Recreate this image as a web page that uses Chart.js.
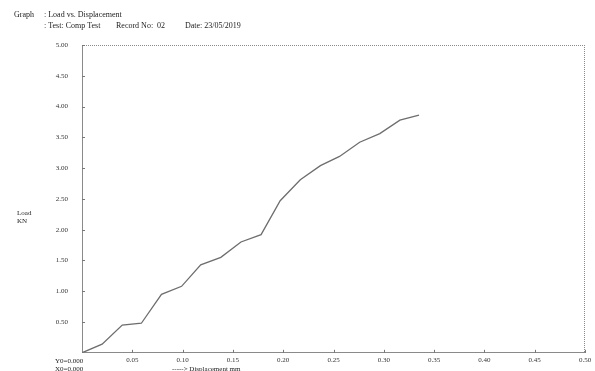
<!DOCTYPE html>
<html>
<head>
<meta charset="utf-8">
<script src="https://cdn.jsdelivr.net/npm/chart.js@4.4.1/dist/chart.umd.min.js"></script>
<style>
  html, body { margin: 0; padding: 0; background: #fff; }
  #wrap { width: 595px; height: 371px; position: relative; }
</style>
</head>
<body>
<div id="wrap"><canvas id="c" width="595" height="371"></canvas></div>
<script>
// Compression test record: displacement (mm) against load (KN)
const displacement = [0, 0.020, 0.040, 0.059, 0.079, 0.099, 0.118, 0.138, 0.158, 0.178,
                      0.197, 0.217, 0.237, 0.256, 0.276, 0.296, 0.316, 0.335];
const load = [0, 0.14, 0.45, 0.48, 0.95, 1.08, 1.43, 1.55, 1.80, 1.92,
              2.47, 2.81, 3.04, 3.19, 3.42, 3.56, 3.78, 3.86];

const xTicks = [0.05, 0.10, 0.15, 0.20, 0.25, 0.30, 0.35, 0.40, 0.45, 0.50];
const yTicks = [0.50, 1.00, 1.50, 2.00, 2.50, 3.00, 3.50, 4.00, 4.50, 5.00];

const headerLines = [
  { x: 14, y: 15, text: 'Graph' },
  { x: 44, y: 15, text: ': Load vs. Displacement' },
  { x: 44, y: 26, text: ': Test: Comp Test' },
  { x: 116, y: 26, text: 'Record No:  02' },
  { x: 185, y: 26, text: 'Date: 23/05/2019' }
];

const SERIF = '"Liberation Serif", "Times New Roman", serif';
const AXIS_GREY = '#8a8a8a';

// Header text, side labels, inward tick marks and dotted top/right frame
const decorations = {
  id: 'decorations',
  afterDraw(chart) {
    const ctx = chart.ctx;
    const area = chart.chartArea;
    const xs = chart.scales.x, ys = chart.scales.y;
    ctx.save();

    ctx.fillStyle = '#222';
    ctx.textBaseline = 'middle';
    ctx.textAlign = 'left';
    ctx.font = '8px ' + SERIF;
    headerLines.forEach(h => ctx.fillText(h.text, h.x, h.y));

    ctx.font = '7px ' + SERIF;
    ctx.fillText('Load', 17, 213);
    ctx.fillText('KN', 17, 221);
    ctx.fillText('Y0=0.000', 55, 361);
    ctx.fillText('X0=0.000', 55, 369);
    ctx.fillText('-----> Displacement mm', 172, 369);

    // dotted frame on top and right
    ctx.strokeStyle = AXIS_GREY;
    ctx.lineWidth = 1;
    ctx.setLineDash([1, 1]);
    ctx.beginPath();
    ctx.moveTo(area.left, area.top + 0.5);
    ctx.lineTo(area.right, area.top + 0.5);
    ctx.moveTo(area.right - 0.5, area.top);
    ctx.lineTo(area.right - 0.5, area.bottom);
    ctx.stroke();
    ctx.setLineDash([]);

    // short tick marks pointing into the plot
    ctx.strokeStyle = '#777';
    ctx.beginPath();
    yTicks.forEach(v => {
      const py = Math.round(ys.getPixelForValue(v)) + 0.5;
      ctx.moveTo(area.left, py);
      ctx.lineTo(area.left + 3, py);
    });
    xTicks.forEach(v => {
      const px = Math.round(xs.getPixelForValue(v)) + 0.5;
      ctx.moveTo(px, area.bottom);
      ctx.lineTo(px, area.bottom - 3);
    });
    ctx.stroke();
    ctx.restore();
  }
};

new Chart(document.getElementById('c'), {
  type: 'scatter',
  data: {
    datasets: [{
      data: displacement.map((d, i) => ({ x: d, y: load[i] })),
      showLine: true,
      borderColor: '#6e6e6e',
      borderWidth: 1.3,
      pointRadius: 0,
      tension: 0
    }]
  },
  options: {
    responsive: false,
    animation: false,
    devicePixelRatio: 1,
    layout: { padding: { top: 45, right: 10, left: 0, bottom: 0 } },
    plugins: { legend: { display: false }, tooltip: { enabled: false } },
    scales: {
      x: {
        type: 'linear',
        min: 0, max: 0.5,
        afterFit(s) { s.height = 16; },
        afterBuildTicks(s) { s.ticks = [0].concat(xTicks).map(v => ({ value: v })); },
        grid: { display: false, drawTicks: false },
        border: { display: true, color: AXIS_GREY, dash: [1, 1], width: 1 },
        ticks: {
          padding: 3,
          color: '#333',
          font: { family: SERIF, size: 7 },
          maxRotation: 0,
          autoSkip: false,
          callback: v => v === 0 ? '' : v.toFixed(2)
        }
      },
      y: {
        type: 'linear',
        min: 0, max: 5,
        afterFit(s) { s.width = 82; },
        afterBuildTicks(s) { s.ticks = [0].concat(yTicks).map(v => ({ value: v })); },
        grid: { display: false, drawTicks: false },
        border: { display: true, color: AXIS_GREY, dash: [1, 1], width: 1 },
        ticks: {
          padding: 14,
          color: '#333',
          font: { family: SERIF, size: 7 },
          autoSkip: false,
          callback: v => v === 0 ? '' : v.toFixed(2)
        }
      }
    }
  },
  plugins: [decorations]
});
</script>
</body>
</html>
